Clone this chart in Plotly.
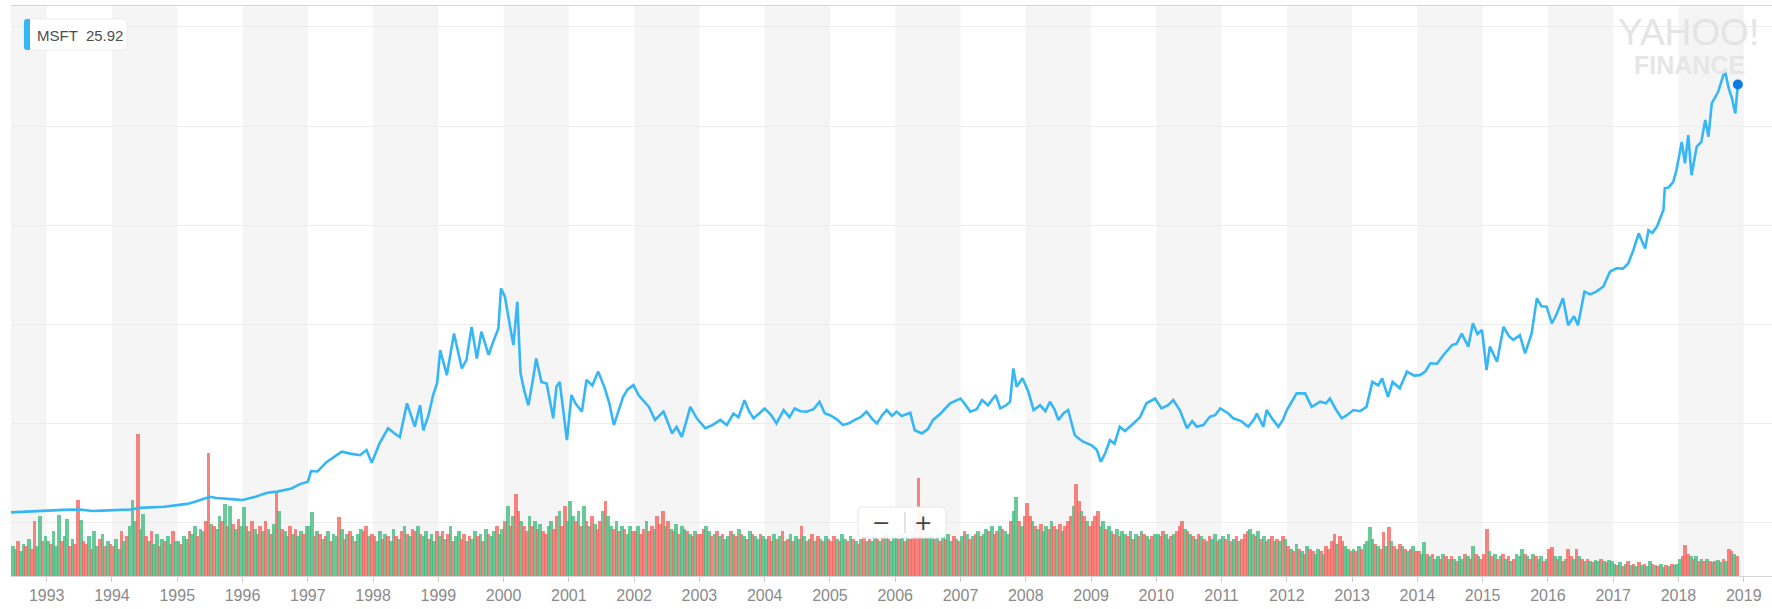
import plotly.graph_objects as go

# ---------------- data ----------------
price_t = [1992.45, 1992.6, 1992.8, 1993.0, 1993.25, 1993.51, 1993.7, 1993.85, 1994.0, 1994.15,
           1994.28, 1994.43, 1994.6, 1994.8, 1995.0, 1995.15, 1995.26, 1995.4, 1995.5, 1995.6,
           1995.7, 1995.83, 1996.0, 1996.1, 1996.2, 1996.3, 1996.38, 1996.53, 1996.65, 1996.75,
           1996.88, 1997.0, 1997.05, 1997.15, 1997.29, 1997.4, 1997.52, 1997.65, 1997.8, 1997.9,
           1997.98, 1998.1, 1998.23, 1998.32, 1998.41, 1998.52, 1998.64, 1998.72, 1998.77, 1998.85,
           1998.92, 1998.98, 1999.03, 1999.13, 1999.24, 1999.36, 1999.43, 1999.51, 1999.59, 1999.66,
           1999.77, 1999.84, 1999.92, 1999.96, 2000.02, 2000.1, 2000.15, 2000.21, 2000.26, 2000.32,
           2000.38, 2000.45, 2000.5, 2000.58, 2000.66, 2000.76, 2000.81, 2000.86, 2000.92, 2000.97,
           2001.04, 2001.1, 2001.2, 2001.27, 2001.36, 2001.45, 2001.55, 2001.62, 2001.69, 2001.76,
           2001.83, 2001.9, 2001.99, 2002.07, 2002.14, 2002.23, 2002.32, 2002.45, 2002.52, 2002.58,
           2002.65, 2002.73, 2002.8, 2002.86, 2002.96, 2003.09, 2003.2, 2003.32, 2003.42, 2003.52,
           2003.6, 2003.69, 2003.76, 2003.83, 2003.92, 2004.0, 2004.1, 2004.18, 2004.29, 2004.38,
           2004.46, 2004.55, 2004.64, 2004.75, 2004.84, 2004.92, 2005.0, 2005.1, 2005.2, 2005.3,
           2005.38, 2005.47, 2005.56, 2005.65, 2005.72, 2005.8, 2005.87, 2005.95, 2006.02, 2006.1,
           2006.23, 2006.3, 2006.41, 2006.5, 2006.58, 2006.7, 2006.84, 2007.0, 2007.08, 2007.15,
           2007.25, 2007.33, 2007.42, 2007.54, 2007.61, 2007.7, 2007.76, 2007.81, 2007.86, 2007.95,
           2008.04, 2008.12, 2008.22, 2008.3, 2008.37, 2008.44, 2008.5, 2008.58, 2008.65, 2008.7,
           2008.75, 2008.82, 2008.88, 2009.01, 2009.09, 2009.15, 2009.22, 2009.29, 2009.36, 2009.44,
           2009.52, 2009.65, 2009.75, 2009.85, 2009.98, 2010.08, 2010.18, 2010.26, 2010.36, 2010.47,
           2010.55, 2010.62, 2010.72, 2010.82, 2010.9, 2010.98, 2011.1, 2011.18, 2011.3, 2011.41,
           2011.5, 2011.54, 2011.64, 2011.69, 2011.78, 2011.87, 2011.94, 2012.0, 2012.08, 2012.15,
           2012.28, 2012.38, 2012.45, 2012.51, 2012.6, 2012.66, 2012.75, 2012.84, 2012.92, 2013.02,
           2013.12, 2013.22, 2013.31, 2013.4, 2013.46, 2013.55, 2013.62, 2013.73, 2013.84, 2013.95,
           2014.04, 2014.12, 2014.2, 2014.3, 2014.4, 2014.53, 2014.6, 2014.68, 2014.78, 2014.85,
           2014.92, 2014.99, 2015.06, 2015.11, 2015.22, 2015.32, 2015.4, 2015.47, 2015.57, 2015.65,
           2015.75, 2015.83, 2015.9, 2015.98, 2016.06, 2016.12, 2016.23, 2016.31, 2016.4, 2016.46,
           2016.56, 2016.65, 2016.74, 2016.85, 2016.95, 2017.05, 2017.15, 2017.23, 2017.31, 2017.39,
           2017.49, 2017.54, 2017.6, 2017.67, 2017.77, 2017.79, 2017.85, 2017.92, 2017.97, 2018.05,
           2018.1, 2018.15, 2018.2, 2018.28, 2018.35, 2018.41, 2018.46, 2018.51, 2018.61, 2018.71,
           2018.77, 2018.82, 2018.87, 2018.9, 2018.91]
price_v = [2.45, 2.6, 2.8, 3.0, 3.1, 3.2, 2.8, 2.9, 3.0, 3.0,
           3.2, 3.6, 3.7, 3.9, 4.3, 4.6, 5.1, 5.8, 6.4, 6.1,
           5.9, 5.8, 5.6, 6.0, 6.4, 7.0, 7.4, 7.7, 8.2, 8.5,
           9.6, 10.2, 12.9, 12.8, 15.2, 16.5, 17.8, 17.3, 16.9, 18.2,
           15.0, 19.9, 23.7, 22.5, 21.5, 30.0, 24.1, 29.5, 23.2, 27.0,
           32.1, 35.0, 43.4, 37.1, 47.6, 38.8, 40.9, 49.3, 41.3, 48.1,
           42.2, 45.5, 48.9, 59.0, 56.9, 49.3, 44.7, 55.6, 37.5, 33.0,
           29.5, 36.0, 41.3, 35.4, 35.0, 26.2, 34.2, 35.4, 28.0, 20.7,
           32.1, 30.0, 27.9, 35.9, 34.5, 38.0, 33.8, 30.0, 24.5, 28.0,
           31.6, 33.5, 34.6, 32.0, 30.8, 29.0, 25.8, 27.9, 25.0, 22.4,
           24.0, 21.5, 25.5, 29.1, 26.2, 23.7, 24.5, 25.8, 24.5, 27.4,
           26.5, 30.8, 28.0, 26.2, 27.5, 28.7, 27.0, 24.9, 28.3, 26.5,
           28.7, 28.0, 27.9, 28.5, 30.4, 27.5, 27.0, 26.0, 24.5, 25.0,
           25.8, 26.5, 27.9, 26.0, 24.9, 27.0, 28.3, 26.8, 27.9, 26.8,
           27.6, 23.2, 22.4, 23.5, 25.8, 27.5, 30.0, 31.2, 29.5, 27.9,
           28.5, 30.8, 29.5, 32.1, 28.7, 29.5, 30.4, 38.8, 34.2, 36.3,
           32.9, 28.3, 29.5, 28.0, 30.4, 28.5, 25.8, 27.5, 28.3, 25.0,
           22.0, 21.0, 20.3, 19.4, 18.2, 15.2, 17.5, 20.7, 19.8, 24.1,
           23.0, 24.9, 26.5, 30.0, 31.2, 28.7, 29.5, 30.8, 28.3, 23.7,
           25.5, 24.1, 24.5, 26.6, 27.0, 28.7, 27.5, 26.2, 25.5, 24.1,
           26.0, 27.4, 24.1, 28.3, 26.0, 24.1, 25.8, 28.3, 30.5, 32.5,
           32.5, 29.1, 29.8, 30.4, 30.0, 31.2, 28.5, 26.2, 27.0, 28.3,
           28.0, 29.1, 35.4, 34.5, 36.3, 31.6, 35.4, 33.8, 38.0, 37.0,
           37.1, 38.0, 40.1, 40.0, 42.2, 44.7, 45.0, 47.6, 44.3, 50.2,
           47.5, 48.5, 38.4, 44.3, 40.5, 49.3, 47.0, 46.0, 47.2, 42.6,
           47.6, 56.5, 54.5, 54.4, 50.2, 52.0, 56.5, 49.7, 52.0, 49.7,
           58.2, 57.5, 58.2, 59.5, 63.2, 64.1, 64.0, 65.3, 68.7, 72.9,
           69.1, 73.7, 73.0, 74.6, 78.8, 84.3, 84.5, 85.9, 88.9, 96.0,
           90.6, 97.7, 87.6, 94.8, 96.0, 101.5, 97.3, 105.7, 108.7, 114.1,
           109.5, 107.0, 103.2, 109.1, 110.5]

# volume (millions of shares), one bar per half month, starting mid-1992
vol_start = 1992 + 11.5 / 24
vol_step = 1 / 24
vol_m = [
    60, 55, 70, 50, 65, 60, 75, 55, 110, 60, 120, 70, 80,                                          # 1992
    70, 65, 90, 60, 122, 70, 80, 114, 60, 75, 65, 152, 112, 70, 65, 80, 55, 90, 60, 75, 85, 60, 70, 65,  # 1993
    60, 75, 55, 90, 70, 80, 100, 152, 110, 284, 95, 124, 80, 70, 90, 65, 85, 60, 75, 70, 80, 65, 90, 70,  # 1994
    70, 65, 80, 75, 90, 85, 100, 80, 95, 90, 110, 246, 105, 100, 95, 120, 110, 144, 100, 140, 105, 95, 115, 100,  # 1995
    138, 100, 90, 110, 95, 85, 100, 90, 110, 95, 85, 105, 170, 130, 95, 90, 80, 100, 85, 95, 80, 90, 85, 100,  # 1996
    100, 128, 80, 90, 85, 75, 80, 90, 70, 85, 80, 118, 95, 75, 85, 90, 80, 70, 85, 95, 90, 100, 80, 85,  # 1997
    80, 70, 90, 75, 85, 80, 70, 95, 80, 75, 90, 100, 85, 80, 95, 90, 100, 85, 80, 90, 75, 85, 70, 90,  # 1998
    80, 90, 75, 85, 100, 70, 80, 90, 75, 85, 70, 80, 75, 90, 80, 85, 70, 95, 85, 80, 90, 100, 85, 95,  # 1999
    110, 140, 100, 120, 164, 130, 110, 100, 90, 120, 100, 110, 95, 105, 90, 85, 100, 110, 95, 120, 130, 100, 140, 110,  # 2000
    150, 120, 110, 130, 100, 140, 110, 100, 120, 105, 95, 110, 130, 150, 120, 100, 95, 110, 90, 100, 95, 85, 100, 90,  # 2001
    90, 100, 85, 95, 110, 90, 100, 95, 120, 105, 130, 100, 110, 95, 90, 105, 85, 100, 95, 90, 85, 80, 90, 85,  # 2002
    85, 95, 100, 90, 80, 85, 90, 80, 85, 75, 80, 90, 85, 80, 95, 85, 80, 75, 90, 85, 80, 75, 85, 80,  # 2003
    75, 80, 70, 85, 75, 80, 90, 70, 75, 85, 70, 80, 75, 100, 80, 70, 75, 85, 70, 80, 75, 70, 80, 75,  # 2004
    70, 80, 75, 70, 85, 75, 70, 80, 75, 70, 65, 75, 80, 70, 75, 70, 80, 75, 70, 80, 85, 75, 70, 80,  # 2005
    80, 75, 85, 70, 80, 75, 90, 110, 196, 120, 100, 90, 85, 80, 75, 85, 70, 80, 75, 85, 70, 80, 75, 70,  # 2006
    80, 90, 85, 75, 80, 85, 90, 80, 85, 95, 90, 100, 85, 90, 100, 95, 90, 85, 110, 130, 158, 110, 100, 120,  # 2007
    146, 120, 110, 100, 95, 105, 90, 100, 95, 110, 100, 95, 105, 90, 100, 110, 120, 140, 184, 150, 130, 120, 110, 100,  # 2008
    110, 120, 130, 100, 110, 95, 100, 90, 85, 95, 80, 90, 85, 80, 90, 75, 85, 80, 90, 85, 80, 75, 80, 85,  # 2009
    85, 80, 90, 85, 75, 80, 85, 90, 100, 110, 95, 90, 85, 80, 75, 85, 80, 75, 70, 80, 75, 85, 70, 75,  # 2010
    80, 75, 85, 70, 75, 80, 70, 75, 85, 90, 95, 85, 80, 90, 75, 80, 70, 75, 80, 70, 75, 70, 80, 75,  # 2011
    60, 55, 50, 65, 55, 50, 45, 60, 55, 50, 45, 55, 50, 45, 60, 55, 70, 84, 65, 80, 70, 60, 55, 50,  # 2012
    55, 50, 60, 55, 65, 70, 98, 75, 65, 60, 55, 88, 60, 98, 70, 60, 55, 65, 60, 55, 50, 55, 60, 50,  # 2013
    50, 45, 68, 45, 40, 45, 35, 40, 35, 45, 40, 35, 40, 35, 30, 40, 35, 45, 40, 35, 60, 45, 40, 35,  # 2014
    45, 94, 50, 40, 45, 35, 40, 45, 35, 40, 30, 35, 45, 40, 55, 45, 40, 35, 45, 40, 35, 40, 30, 35,  # 2015
    55, 58, 40, 35, 40, 30, 35, 54, 40, 35, 55, 40, 35, 30, 35, 30, 28, 32, 30, 35, 30, 28, 32, 30,  # 2016
    25, 22, 28, 20, 25, 30, 22, 25, 20, 28, 22, 25, 20, 30, 24, 22, 20, 25, 18, 22, 20, 25, 22, 24,  # 2017
    35, 40, 62, 45, 40, 35, 40, 30, 35, 30, 35, 30, 28, 30, 32, 28, 35, 30, 54, 50, 45, 40,  # 2018
]
# G = up period, R = down period
vol_dir = ("GGRGGRGRRGGRG"
           "GRGGGRGGRGRRGRRGRGGRGRGR"
           "RGGRGRGGGRGGRGRGGRGRGGRG"
           "GRGGRGGRGGRRGRGGRGRGRGRG"
           "GRGRGGRGRGRGRGRGGRGRGGRG"
           "GGRGRGRGRGGRGRGRGRGGRRGR"
           "RGGRGRGGRGRGRGRRGRGGRGGR"
           "GRGRGRGGRRGRGGRGRGRGGRGG"
           "RGRGRRGRRGRGRGRRGGRRGRRG"
           "GGRGRGRGRGRRGRGGRGRGRGGR"
           "RGRRGRRGRRRGRGRGRGGRGRGR"
           "RRGGRGRGRGGRGRGRGRGRGGRG"
           "GRRGRGRGRGRGGRGRGRGRGRGR"
           "RRGRGGRGRGRGRGRGGRGRGRGG"
           "GRGRGRRRRRGRGGRGRGRGGRGR"
           "GRGRGRGRGGRGRRGRGGRGGRGR"
           "RRGRGRGGRGRGRGRRRGRRGRGR"
           "RRRGGRGGRGRGGRGRGRGRGGRG"
           "GRRGGRGRRRGRGRGRGRGRGGRG"
           "GRGRGRGRRRGGRGRGRGRGRGRG"
           "RGRGRGRGRRGGRGRRRRGRRGGR"
           "GRGRGGGGRGRRGRGRGRGRGRGR"
           "RGGRGRGGRGRGRGRGGRGRGRGR"
           "RRGRGRGRGRGRGGGRGRGRGGRG"
           "RRGRGRGRRGRGRGRGRGGRGRGG"
           "GRGRGRGRGRGRGGRGRGGRGRGG"
           "GRRRGRGRGRGRGRGGRGRRGR")

year_ticks = list(range(1993, 2020))
tick_labels = [str(y) for y in year_ticks]
grid_prices = [0, 25, 50, 75, 100, 125]
legend_text = "MSFT  25.92"

# ---------------- layout constants ----------------
W, H = 1772, 609
L, R, T, B = 11, 0, 6, 33
X_RANGE = [1992.453, 2019.433]
P_RANGE = [-13.6, 130.3]
V_RANGE = [0, 1140]

PW = W - L - R
PH = H - T - B


def px(xp):
    return (xp - L) / PW


def py(yp):
    return (H - B - yp) / PH


n = min(len(vol_m), len(vol_dir))
vol_x = [vol_start + i * vol_step for i in range(n)]
col_map = {"G": "rgba(64,186,124,0.78)", "R": "rgba(246,98,92,0.78)"}
vol_colors = [col_map[c] for c in vol_dir[:n]]

fig = go.Figure()

fig.add_trace(go.Bar(
    x=vol_x, y=vol_m[:n], width=vol_step * 1.35,
    marker=dict(color=vol_colors, line=dict(width=0)),
    yaxis="y", hoverinfo="skip", showlegend=False,
))

fig.add_trace(go.Scatter(
    x=price_t, y=price_v, mode="lines",
    line=dict(color="#35b6f6", width=2.6),
    yaxis="y2", hoverinfo="skip", showlegend=False,
))

fig.add_trace(go.Scatter(
    x=[price_t[-1]], y=[price_v[-1]], mode="markers",
    marker=dict(color="#0a7be6", size=10),
    yaxis="y2", hoverinfo="skip", showlegend=False, cliponaxis=False,
))

shapes = []
# alternating year stripes (even years shaded)
for yr in range(1992, 2020, 2):
    x0 = max(yr, X_RANGE[0])
    x1 = min(yr + 1, X_RANGE[1])
    shapes.append(dict(type="rect", xref="x", yref="paper", x0=x0, x1=x1, y0=0, y1=1,
                       fillcolor="#f5f5f5", line=dict(width=0), layer="below"))


def rounded(x0, y0, x1, y1, r):
    # pixel coordinates -> paper path with rounded corners
    rx = r / PW
    ry = r / PH
    a0, a1 = px(x0), px(x1)
    b0, b1 = py(y1), py(y0)  # bottom, top in paper
    return (f"M {a0+rx},{b0} L {a1-rx},{b0} Q {a1},{b0} {a1},{b0+ry} "
            f"L {a1},{b1-ry} Q {a1},{b1} {a1-rx},{b1} L {a0+rx},{b1} "
            f"Q {a0},{b1} {a0},{b1-ry} L {a0},{b0+ry} Q {a0},{b0} {a0+rx},{b0} Z")


# legend box
shapes.append(dict(type="path", xref="paper", yref="paper", path=rounded(24, 19, 127, 50, 4),
                   fillcolor="white", line=dict(color="#ececec", width=1), layer="above"))
shapes.append(dict(type="path", xref="paper", yref="paper", path=rounded(24, 19, 30, 50, 3),
                   fillcolor="#35b6f6", line=dict(width=0), layer="above"))
shapes.append(dict(type="rect", xref="paper", yref="paper", x0=px(27), x1=px(30), y0=py(50), y1=py(19),
                   fillcolor="#35b6f6", line=dict(width=0), layer="above"))

# zoom control box
shapes.append(dict(type="path", xref="paper", yref="paper", path=rounded(858, 507, 946, 538, 5),
                   fillcolor="rgba(255,255,255,0.93)", line=dict(color="#e6e6e6", width=1), layer="above"))
shapes.append(dict(type="line", xref="paper", yref="paper", x0=px(905), x1=px(905),
                   y0=py(533), y1=py(512), line=dict(color="#c8c8c8", width=1), layer="above"))

annotations = [
    dict(xref="paper", yref="paper", x=px(35), y=py(35), xanchor="left", yanchor="middle",
         text=legend_text, showarrow=False,
         font=dict(family="Liberation Sans, Arial, sans-serif", size=15, color="#4d4d4d")),
    dict(xref="paper", yref="paper", x=px(1688), y=py(32), xanchor="center", yanchor="middle",
         text="YAHOO!", showarrow=False,
         font=dict(family="Liberation Sans, Arial, sans-serif", size=37, color="#e4e4e4")),
    dict(xref="paper", yref="paper", x=px(1689), y=py(65), xanchor="center", yanchor="middle",
         text="<b>FINANCE</b>", showarrow=False,
         font=dict(family="Liberation Sans, Arial, sans-serif", size=25, color="#e6e6e6")),
    dict(xref="paper", yref="paper", x=px(881), y=py(522), xanchor="center", yanchor="middle",
         text="\u2212", showarrow=False,
         font=dict(family="DejaVu Sans, sans-serif", size=22, color="#444444")),
    dict(xref="paper", yref="paper", x=px(923), y=py(522), xanchor="center", yanchor="middle",
         text="+", showarrow=False,
         font=dict(family="DejaVu Sans, sans-serif", size=22, color="#444444")),
]

fig.update_layout(
    width=W, height=H,
    margin=dict(l=L, r=R, t=T, b=B, pad=0),
    paper_bgcolor="white", plot_bgcolor="white",
    bargap=0, barmode="overlay",
    showlegend=False, hovermode=False,
    shapes=shapes, annotations=annotations,
    xaxis=dict(
        range=X_RANGE, tickmode="array", tickvals=year_ticks, ticktext=tick_labels,
        ticks="outside", ticklen=5, tickcolor="#cccccc", showgrid=False, zeroline=False,
        showline=True, linecolor="#d6d6d6", linewidth=1, mirror=True,
        tickfont=dict(family="Liberation Sans, Arial, sans-serif", size=16, color="#8a8a8a"),
        fixedrange=True,
    ),
    yaxis=dict(range=V_RANGE, visible=False, showgrid=False, zeroline=False, fixedrange=True),
    yaxis2=dict(
        range=P_RANGE, overlaying="y", side="right", tickmode="array", tickvals=grid_prices,
        showticklabels=False, ticks="", showgrid=True, gridcolor="#ececec", gridwidth=1,
        zeroline=False, showline=False, fixedrange=True,
    ),
)

fig.write_html("out.html", config={"displayModeBar": False},
               post_script="document.body.style.margin='0';")
